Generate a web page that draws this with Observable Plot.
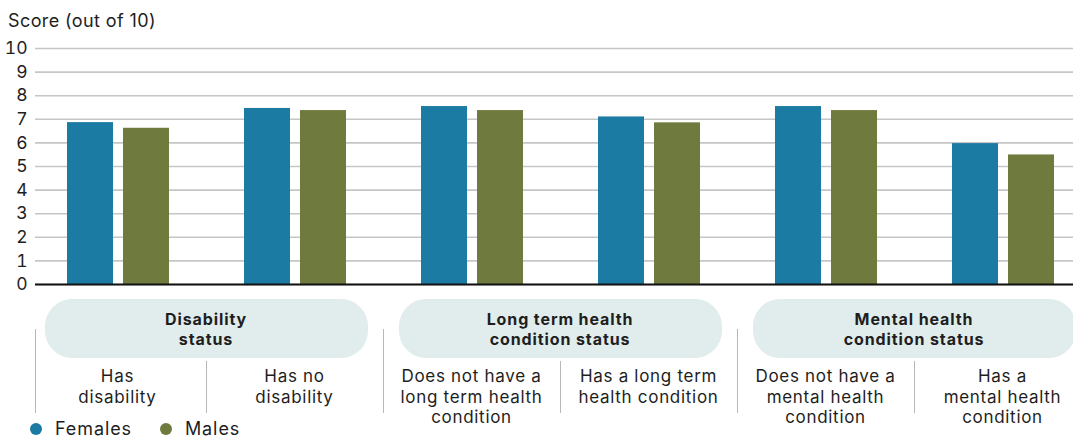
<!DOCTYPE html>
<html>
<head>
<meta charset="utf-8">
<script src="https://cdn.jsdelivr.net/npm/d3@7"></script>
<script src="https://cdn.jsdelivr.net/npm/@observablehq/plot@0.6"></script>
<style>
  html, body { margin: 0; padding: 0; background: #fff; }
  #wrap { position: relative; width: 1073px; height: 439px; overflow: hidden; font-family: Inter, "Noto Sans", sans-serif; color: #1e1e1e; }
  #wrap svg { position: absolute; left: 0; top: 0; }
  .title { position: absolute; left: 8px; top: 10px; font-size: 18px; letter-spacing: 0.4px; white-space: nowrap; }
  .pill { position: absolute; background: #e1ecec; border-radius: 27px; display: flex; align-items: center; justify-content: center; text-align: center; font-weight: 700; font-size: 16px; letter-spacing: 0.9px; line-height: 20px; }
  .sep { position: absolute; width: 1.3px; background: #b8b8b8; }
  .cat { position: absolute; text-align: center; font-size: 17px; letter-spacing: 0.7px; line-height: 20.5px; white-space: nowrap; }
  .legend { position: absolute; left: 30px; top: 418px; display: flex; align-items: center; font-size: 18px; letter-spacing: 0.9px; }
  .legend .item { display: flex; align-items: center; margin-right: 28px; }
  .legend .dot { width: 12px; height: 12px; border-radius: 50%; margin-right: 13px; }
</style>
</head>
<body>
<div id="wrap"></div>
<script>
// ---- data ----
const categories = [
  "Has disability",
  "Has no disability",
  "Does not have a long term health condition",
  "Has a long term health condition",
  "Does not have a mental health condition",
  "Has a mental health condition"
];
const categoryLines = [
  ["Has", "disability"],
  ["Has no", "disability"],
  ["Does not have a", "long term health", "condition"],
  ["Has a long term", "health condition"],
  ["Does not have a", "mental health", "condition"],
  ["Has a", "mental health", "condition"]
];
const groups = ["Disability status", "Long term health condition status", "Mental health condition status"];
const groupLines = [["Disability", "status"], ["Long term health", "condition status"], ["Mental health", "condition status"]];
const groupMembers = [[0, 1], [2, 3], [4, 5]];
const sexes = ["Females", "Males"];
const females = [6.86, 7.46, 7.54, 7.10, 7.54, 5.97];
const males   = [6.62, 7.37, 7.37, 6.85, 7.37, 5.49];
const colors = ["#1b7ba3", "#6f7b3e"];
const yTicks = [0, 1, 2, 3, 4, 5, 6, 7, 8, 9, 10];
const yTitle = "Score (out of 10)";

const rows = categories.flatMap((c, i) => [
  {category: c, sex: sexes[0], value: females[i]},
  {category: c, sex: sexes[1], value: males[i]}
]);

const common = {
  width: 1073,
  height: 296,
  marginTop: 48,
  marginBottom: 12,
  marginLeft: 35,
  marginRight: 0,
  style: {fontFamily: "Inter, 'Noto Sans', sans-serif", fontSize: "17px", color: "#1e1e1e", background: "transparent", overflow: "visible"},
  y: {domain: [0, 10], label: null}
};

// layer 1: grid + y axis (unfaceted, spans the frame)
const gridLayer = Plot.plot({
  ...common,
  marks: [
    Plot.gridY(yTicks, {stroke: "#c6c6c6", strokeOpacity: 1, strokeWidth: 1.6}),
    Plot.axisY(yTicks, {tickSize: 0, tickPadding: 8, label: null, fontSize: 17.5})
  ]
});

// layer 2: grouped bars (faceted by category)
const barLayer = Plot.plot({
  ...common,
  fx: {domain: categories, range: [28.5, 1090.5], padding: 0, axis: null},
  x: {domain: sexes, paddingInner: 0.18, paddingOuter: 0.66, axis: null},
  y: {domain: [0, 10], label: null, axis: null},
  color: {domain: sexes, range: colors},
  marks: [
    Plot.barY(rows, {fx: "category", x: "sex", y: "value", fill: "sex"})
  ]
});

// layer 3: baseline
const baseLayer = Plot.plot({
  ...common,
  y: {domain: [0, 10], label: null, axis: null},
  marks: [Plot.ruleY([0], {stroke: "#111", strokeWidth: 2})]
});

const wrap = document.getElementById("wrap");
wrap.appendChild(gridLayer);
wrap.appendChild(barLayer);
wrap.appendChild(baseLayer);

const t = document.createElement("div");
t.className = "title";
t.textContent = yTitle;
wrap.appendChild(t);

// ---- lower category annotation, positioned from the fx scale ----
const fx = barLayer.scale("fx");
const step = fx.step;
const frameLeft = 35;

function el(cls, css, html) {
  const d = document.createElement("div");
  d.className = cls;
  Object.assign(d.style, css);
  if (html != null) d.innerHTML = html;
  wrap.appendChild(d);
  return d;
}

groups.forEach((g, gi) => {
  const [a, b] = groupMembers[gi];
  const x0 = fx.apply(categories[a]);
  const x1 = fx.apply(categories[b]) + step;
  const mid = (x0 + x1) / 2;
  const pw = 323;
  el("pill", {left: (mid - pw / 2) + "px", top: "299px", width: pw + "px", height: "59px"},
     groupLines[gi].join("<br>"));
  el("sep", {left: Math.max(x0, frameLeft) + "px", top: "329px", height: "84px"});
  el("sep", {left: (x0 + step) + "px", top: "361px", height: "52px"});
});

categories.forEach((c, i) => {
  const x0 = fx.apply(c);
  el("cat", {left: x0 + "px", top: "366px", width: step + "px"}, categoryLines[i].join("<br>"));
});

const lg = el("legend", {});
sexes.forEach((s, i) => {
  const item = document.createElement("div");
  item.className = "item";
  item.innerHTML = `<span class="dot" style="background:${colors[i]}"></span><span>${s}</span>`;
  lg.appendChild(item);
});
</script>
</body>
</html>
